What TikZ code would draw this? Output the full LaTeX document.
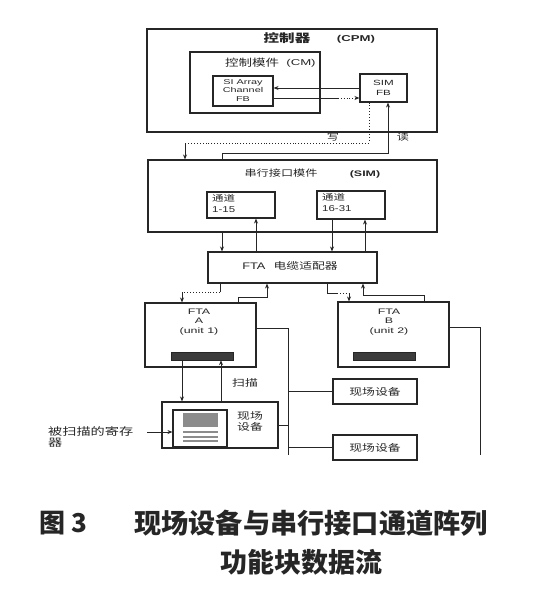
\documentclass[tikz,border=0pt]{standalone}
\usepackage{fontspec}
\setmainfont{Liberation Sans}
\newfontfamily\cjk{Noto Sans CJK SC}
\usetikzlibrary{arrows.meta,calc}
\definecolor{ink}{HTML}{262626}
\definecolor{regcol}{HTML}{8C8C8C}
\newcommand\hs[1]{\scalebox{1.35}[1]{#1}}
\newcommand\hl[1]{\scalebox{1.55}[1]{#1}}
\begin{document}
\begin{tikzpicture}[x=1pt,y=-1pt,
  box/.style={draw=ink, line width=1.1pt, inner sep=0pt},
  ln/.style={draw=ink, line width=0.85pt},
  arr/.style={ln, -{Stealth[length=5pt,width=4pt]}},
  dts/.style={draw=ink, line width=0.9pt, dotted},
  txt/.style={inner sep=0pt, text=ink},
  fs/.style={font=\fontsize{#1}{#1}\selectfont},
  fsb/.style 2 args={font=\fontsize{#1}{#2}\selectfont}
]
\useasboundingbox (0,0) rectangle (533,613);

% ---------- boxes ----------
\node[box, minimum width=290pt, minimum height=103pt] (cpm) at (292,80.5) {};
\node[box, minimum width=130pt, minimum height=61pt] (cm) at (255,82.5) {};
\node[box, minimum width=60pt, minimum height=30pt] (sia) at (243,91) {};
\node[box, minimum width=47pt, minimum height=28pt] (simfb) at (383.5,88) {};
\node[box, minimum width=289pt, minimum height=72pt] (sim) at (292.5,196) {};
\node[box, minimum width=68pt, minimum height=26pt] (ch1) at (241,205) {};
\node[box, minimum width=68pt, minimum height=28pt] (ch2) at (351,205) {};
\node[box, minimum width=169pt, minimum height=31pt] (cab) at (292.5,267.5) {};
\node[box, minimum width=111pt, minimum height=64pt] (ftaa) at (200.5,335) {};
\node[box, minimum width=111pt, minimum height=65pt] (ftab) at (393.5,334.5) {};
\node[draw=ink, fill=ink!90, minimum width=62pt, minimum height=8pt, inner sep=0pt] (bara) at (202,356) {};
\node[draw=ink, fill=ink!90, minimum width=62pt, minimum height=8pt, inner sep=0pt] (barb) at (384,356) {};
\node[box, minimum width=84pt, minimum height=25pt] (fd1) at (375,391.5) {};
\node[box, minimum width=84pt, minimum height=25pt] (fd2) at (375,447.5) {};
\node[box, minimum width=116pt, minimum height=46pt] (fdr) at (220,425) {};
\node[box, minimum width=54pt, minimum height=37pt] (inner) at (200,428.5) {};

% register graphic
\fill[regcol] (183,413) rectangle (218,427);
\foreach \yy in {432,436.5,441}{\draw[regcol, line width=2pt] (183,\yy) -- (218,\yy);}

% ---------- texts ----------
\node[txt, fs=11.5] (t1) at (287,38) {\hs{\cjk\bfseries 控制器}};
\node[txt, fs=8.5] (t2) at (356,39) {\hl{\bfseries (CPM)}};
\node[txt, fs=10] (t3) at (252,63) {\hs{\cjk 控制模件}};
\node[txt, fs=8.5] (t3b) at (301,63) {\hl{(CM)}};
\node[txt, fsb={7}{8.6}] (t4) at (243,91) {\hl{\begin{tabular}{@{}c@{}}SI Array\\Channel\\FB\end{tabular}}};
\node[txt, fsb={7.5}{9.5}] (t5) at (383.5,88.5) {\hl{\begin{tabular}{@{}c@{}}SIM\\FB\end{tabular}}};
\node[txt, fs=9] (t6) at (281,173) {\hs{\cjk 串行接口模件}};
\node[txt, fs=8] (t7) at (365,174) {\hl{\bfseries (SIM)}};
\node[txt, fsb={8.5}{10.5}, anchor=north west] (t8) at (212,194) {\hs{\begin{tabular}{@{}l@{}}{\cjk 通道}\\1-15\end{tabular}}};
\node[txt, fsb={8.5}{10.5}, anchor=north west] (t9) at (322,193) {\hs{\begin{tabular}{@{}l@{}}{\cjk 通道}\\16-31\end{tabular}}};
\node[txt, fs=9.5] (t10) at (290,266) {\hs{FTA\hspace{6pt}{\cjk 电缆适配器}}};
\node[txt, fsb={8}{9.8}] (t11) at (199,322) {\hl{\begin{tabular}{@{}c@{}}FTA\\A\\(unit 1)\end{tabular}}};
\node[txt, fsb={8}{9.8}] (t12) at (389,322) {\hl{\begin{tabular}{@{}c@{}}FTA\\B\\(unit 2)\end{tabular}}};
\node[txt, fs=9.5] (t13) at (375,391.5) {\hs{\cjk 现场设备}};
\node[txt, fs=9.5] (t14) at (375,447.5) {\hs{\cjk 现场设备}};
\node[txt, fsb={9.5}{10.5}] (t15) at (250,422.5) {\hs{\cjk\begin{tabular}{@{}c@{}}现场\\设备\end{tabular}}};
\node[txt, fs=9.5] (t16) at (245,383) {\hs{\cjk 扫描}};
\node[txt, fs=9] (t17) at (333,137) {\hs{\cjk 写}};
\node[txt, fs=9] (t18) at (403,137) {\hs{\cjk 读}};
\node[txt, fsb={10.5}{10.5}, anchor=north west] (t19) at (48,426) {\hs{\cjk\begin{tabular}{@{}l@{}}被扫描的寄存\\器\end{tabular}}};

% caption
\node[txt, fs=26, anchor=west] (cap0) at (39,523) {\cjk\bfseries 图\hspace{6pt}3};
\node[txt, fs=27.2, anchor=west] (cap1) at (134,523) {\cjk\bfseries 现场设备与串行接口通道阵列};
\node[txt, fs=27] (cap2) at (301,562) {\cjk\bfseries 功能块数据流};

% ---------- connectors ----------
\coordinate (y88) at (0,88);
\coordinate (y98) at (0,98);
\coordinate (m98) at (338,98);
\draw[arr] (simfb.west |- y88) -- (sia.east |- y88);
\draw[ln] (sia.east |- y98) -- (m98);
\draw[arr, dotted] (m98) -- (simfb.west |- y98);

% write path (dotted)
\coordinate (wa) at (369,143);
\coordinate (wb) at (185,143);
\draw[dts] (simfb.south -| wa) -- (wa) -- (wb);
\draw[arr] (wb) -- (sim.north -| wb);
% read path
\coordinate (ra) at (222,153);
\coordinate (rb) at (388,153);
\draw[arr] (sim.north -| ra) -- (ra) -- (rb) -- (simfb.south -| rb);

% SIM <-> cable adapter
\coordinate (x222) at (222,0);
\coordinate (x256) at (256,0);
\coordinate (x332) at (332,0);
\coordinate (x365) at (365,0);
\draw[arr] (sim.south -| x222) -- (cab.north -| x222);
\draw[arr] (cab.north -| x256) -- (ch1.south -| x256);
\draw[arr] (ch2.south -| x332) -- (cab.north -| x332);
\draw[arr] (cab.north -| x365) -- (ch2.south -| x365);

% cable adapter <-> FTA A
\coordinate (a1) at (220,292);
\coordinate (a2) at (182,292);
\draw[ln] (cab.south -| a1) -- (a1);
\draw[dts] (a1) -- (a2);
\draw[arr] (a2) -- (ftaa.north -| a2);
\coordinate (a3) at (238,297);
\coordinate (a4) at (267,297);
\draw[arr] (ftaa.north -| a3) -- (a3) -- (a4) -- (cab.south -| a4);

% cable adapter <-> FTA B
\coordinate (b1) at (327,293);
\coordinate (b1m) at (337,293);
\coordinate (b2) at (349,293);
\draw[ln] (cab.south -| b1) -- (b1) -- (b1m);
\draw[dts] (b1m) -- (b2);
\draw[arr] (b2) -- (ftab.north -| b2);
\coordinate (b3) at (424,295);
\coordinate (b4) at (363,295);
\draw[arr] (ftab.north -| b3) -- (b3) -- (b4) -- (cab.south -| b4);

% field buses
\coordinate (fa1) at (288,328);
\coordinate (fa2) at (288,455);
\draw[ln] (ftaa.east |- fa1) -- (fa1) -- (fa2);
\draw[ln] (fa1 |- fd1.west) -- (fd1.west);
\draw[ln] (fa1 |- fd2.west) -- (fd2.west);
\draw[ln] (fdr.east) -- (fa1 |- fdr.east);
\coordinate (fb1) at (480,327);
\coordinate (fb2) at (480,455);
\draw[ln] (ftab.east |- fb1) -- (fb1) -- (fb2);

% bar A <-> scanned device
\coordinate (x182) at (182,0);
\coordinate (x221) at (221,0);
\draw[arr] (bara.south -| x182) -- (fdr.north -| x182);
\draw[arr] (fdr.north -| x221) -- (bara.south -| x221);

% register label arrow
\coordinate (rg) at (147,432);
\draw[arr] (rg) -- (inner.west |- rg);
\end{tikzpicture}
\end{document}
